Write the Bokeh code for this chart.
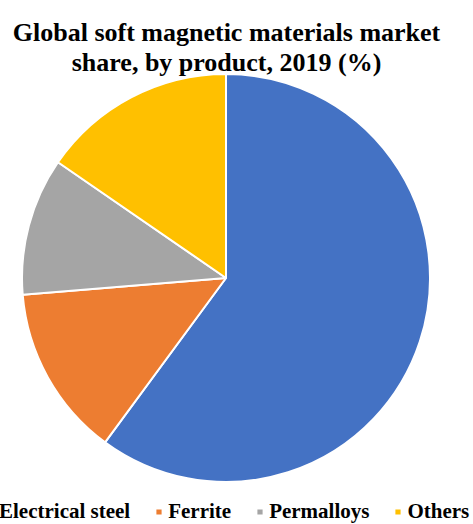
import math
import numpy as np
from bokeh.plotting import figure
from bokeh.models import Range1d, Legend, LegendItem
from bokeh.core.properties import value
from bokeh.embed import file_html
from bokeh.resources import INLINE

# Data
categories = ["Electrical steel", "Ferrite", "Permalloys", "Others"]
shares = [60.1, 13.6, 10.9, 15.4]
colors = ["#4472C4", "#ED7D31", "#A5A5A5", "#FFC000"]
title_lines = ["Global soft magnetic materials market", "share, by product, 2019 (%)"]

W, H = 473, 524
FONT = "Liberation Serif"

p = figure(width=W, height=H, output_backend="svg", toolbar_location=None,
           x_range=Range1d(0, W), y_range=Range1d(0, H),
           min_border=0, outline_line_color=None)
p.axis.visible = False
p.grid.visible = False
p.background_fill_color = "white"
p.border_fill_color = "white"

frac = np.array(shares) / np.sum(shares)
cum = np.cumsum(frac)
prev = np.concatenate([[0.0], cum[:-1]])
start = math.pi / 2 - 2 * math.pi * prev
end = math.pi / 2 - 2 * math.pi * cum

cx, cy, r = 225.5, H - 277.5, 204
items = []
for i, c in enumerate(categories):
    rnd = p.wedge(x=cx, y=cy, radius=r, start_angle=start[i], end_angle=end[i],
                  direction="clock", fill_color=colors[i], line_color="white",
                  line_width=2)
    items.append(LegendItem(label=c, renderers=[rnd]))

# Title
for j, line in enumerate(title_lines):
    p.text(x=[226], y=[H - 31.5 - 30 * j], text=[line], text_align="center",
           text_baseline="alphabetic", text_font=value(FONT),
           text_font_style="bold", text_font_size="26px", text_color="black")

legend = Legend(items=items, orientation="horizontal", location=(-15, 0),
                glyph_width=9, glyph_height=9, label_standoff=5, spacing=24,
                padding=0, margin=0, border_line_color=None,
                background_fill_alpha=0, label_text_font=FONT,
                label_text_font_style="bold", label_text_font_size="21px",
                label_text_color="black")
p.add_layout(legend, "center")

open("out.html", "w").write(file_html(p, INLINE))
